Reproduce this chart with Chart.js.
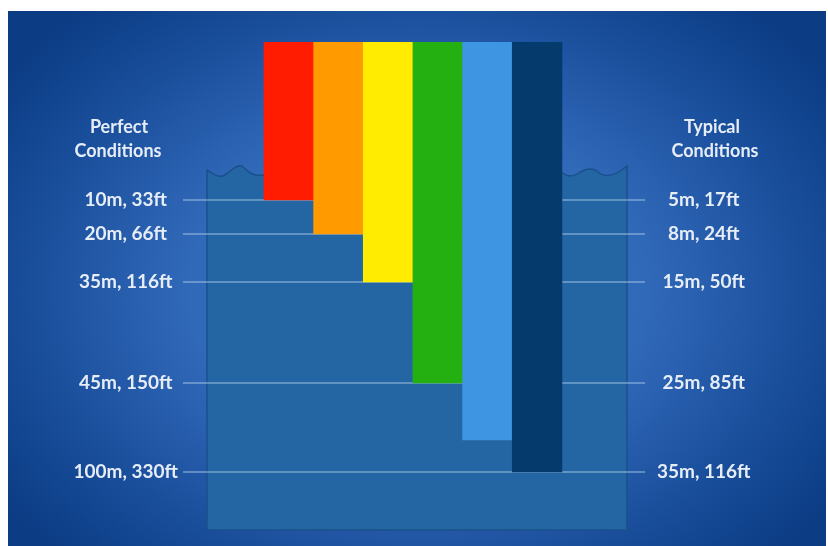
<!DOCTYPE html>
<html>
<head>
<meta charset="utf-8">
<script src="https://cdn.jsdelivr.net/npm/chart.js"></script>
<style>
html, body { margin: 0; padding: 0; background: #fff; }
#bg {
  position: absolute; left: 8px; top: 11px; width: 818px; height: 535px;
  background: radial-gradient(ellipse 62% 70% at 50% 52%, #4079c8 0%, #3169b9 45%, #1a4f9c 75%, #0b3c84 100%);
}
#wrap { position: absolute; left: 0; top: 0; width: 828px; height: 546px; }
</style>
</head>
<body>
<div id="bg"></div>
<div id="wrap"><canvas id="myChart"></canvas></div>
<script>
// colour bands, depth where each one fades out (schematic depth units, 0 = surface)
var bands = ['Red', 'Orange', 'Yellow', 'Green', 'Blue', 'Indigo'];
var bandColors = ['#ff1c00', '#ff9a00', '#ffec00', '#24b010', '#3e95e2', '#053a6c'];
var bandBottom = [32, 66, 114, 215, 272, 304];
var bandTop = -126;
var waterBottom = 362;

// depth marker lines and their labels
var levels = [32, 66, 114, 215, 304];
var perfectLabels = ['10m, 33ft', '20m, 66ft', '35m, 116ft', '45m, 150ft', '100m, 330ft'];
var typicalLabels = ['5m, 17ft', '8m, 24ft', '15m, 50ft', '25m, 85ft', '35m, 116ft'];

var textColor = '#e6edf7';
var lineColor = 'rgba(175, 205, 232, 0.45)';
var labelFont = { family: 'Lato', size: 19, weight: 'bold' };

var waterPlugin = {
  id: 'water',
  beforeDraw: function (chart) {
    var c = chart.ctx, a = chart.chartArea, y = chart.scales.y;
    var top = y.getPixelForValue(0), bot = y.getPixelForValue(waterBottom);
    var L = a.left, R = a.right;
    c.save();
    c.beginPath();
    c.moveTo(L, top + 2);
    c.bezierCurveTo(L + 6, top + 6, L + 10, top + 9, L + 16, top + 8);
    c.bezierCurveTo(L + 24, top + 4, L + 29, top - 4, L + 35, top - 2);
    c.bezierCurveTo(L + 40, top + 2, L + 44, top + 9, L + 57, top + 7);
    c.lineTo(R - 66, top + 4);
    c.bezierCurveTo(R - 60, top + 9, R - 54, top + 9, R - 48, top + 5);
    c.bezierCurveTo(R - 42, top + 1, R - 36, top - 1, R - 30, top + 3);
    c.bezierCurveTo(R - 24, top + 9, R - 14, top + 10, R, top - 2);
    c.lineTo(R, bot);
    c.lineTo(L, bot);
    c.closePath();
    c.fillStyle = '#2466a4';
    c.fill();
    c.lineWidth = 1.5;
    c.strokeStyle = '#1b4f8c';
    c.stroke();
    c.restore();
  }
};

var headerPlugin = {
  id: 'headers',
  afterDraw: function (chart) {
    var c = chart.ctx, a = chart.chartArea;
    c.save();
    c.fillStyle = textColor;
    c.font = 'bold 18px Lato';
    c.textAlign = 'center';
    c.textBaseline = 'alphabetic';
    c.fillText('Perfect', a.left - 88, 133);
    c.fillText('Conditions', a.left - 89, 157);
    c.fillText('Typical', a.right + 85, 133);
    c.fillText('Conditions', a.right + 88, 157);
    c.restore();
  }
};

var points = bands.map(function (b, i) {
  return { x: i, y: [bandTop, bandBottom[i]] };
});

function depthTicks(s) {
  s.ticks = levels.map(function (v) { return { value: v }; });
}
function noEndPadding(s) {
  s.paddingTop = 0;
  s.paddingBottom = 0;
}

var ctx = document.getElementById('myChart').getContext('2d');
var chart = new Chart(ctx, {
  type: 'bar',
  data: {
    datasets: [{
      label: 'Light penetration',
      data: points,
      backgroundColor: bandColors,
      borderWidth: 0,
      barPercentage: 1,
      categoryPercentage: 1
    }]
  },
  options: {
    responsive: true,
    maintainAspectRatio: false,
    animation: false,
    layout: { padding: { top: 42, bottom: 16, left: 0, right: 0 } },
    plugins: { legend: { display: false }, tooltip: { enabled: false } },
    scales: {
      x: {
        type: 'linear', min: -1.647, max: 6.81, display: false,
        offset: false, bounds: 'data', grid: { offset: false },
        afterBuildTicks: function (s) { s.ticks = bands.map(function (b, i) { return { value: i }; }); }
      },
      y: {
        position: 'left',
        reverse: true,
        min: bandTop,
        max: waterBottom,
        afterBuildTicks: depthTicks,
        afterFit: function (s) { s.width = 207; noEndPadding(s); },
        border: { display: false },
        grid: { color: lineColor, lineWidth: 2, tickLength: 24, tickColor: lineColor },
        ticks: {
          autoSkip: false,
          crossAlign: 'center',
          padding: 5,
          color: textColor,
          font: labelFont,
          callback: function (v, i) { return perfectLabels[i]; }
        }
      },
      y2: {
        position: 'right',
        reverse: true,
        min: bandTop,
        max: waterBottom,
        afterBuildTicks: depthTicks,
        afterFit: function (s) { s.width = 201; noEndPadding(s); },
        border: { display: false },
        grid: { drawOnChartArea: false, color: lineColor, lineWidth: 2, tickLength: 18, tickColor: lineColor },
        ticks: {
          autoSkip: false,
          crossAlign: 'center',
          padding: 12,
          color: textColor,
          font: labelFont,
          callback: function (v, i) { return typicalLabels[i]; }
        }
      }
    }
  },
  plugins: [waterPlugin, headerPlugin]
});
</script>
</body>
</html>
